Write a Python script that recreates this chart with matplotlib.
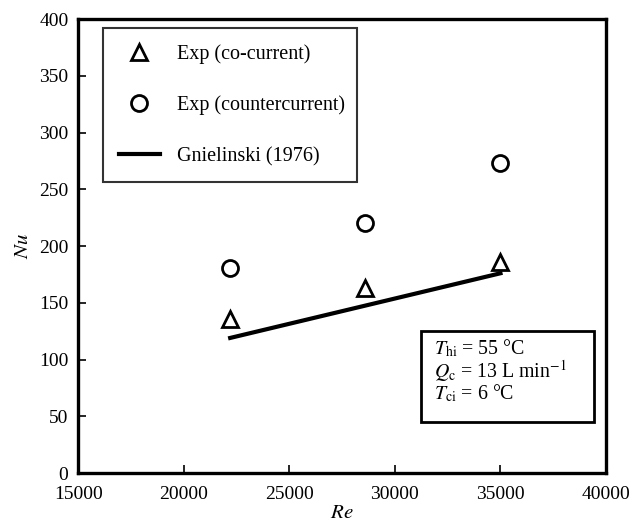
import matplotlib
matplotlib.use("Agg")
import matplotlib.pyplot as plt
from matplotlib.patches import Rectangle

plt.rcParams["font.family"] = ["Liberation Serif", "DejaVu Serif"]
plt.rcParams["mathtext.fontset"] = "stix"
plt.rcParams["font.size"] = 14

# Nusselt number vs Reynolds number
re_exp = [22200, 28600, 35000]
nu_cocurrent = [136, 163, 186]
nu_countercurrent = [181, 220, 273]

re_model = [22200, 35000]
nu_gnielinski = [119, 176]

fig = plt.figure(figsize=(6.3, 5.23), dpi=100)
ax = fig.add_axes([0.124, 0.0956, 0.838, 0.868])

ax.plot(re_exp, nu_cocurrent, linestyle="none", marker="^", markersize=12,
        markerfacecolor="white", markeredgecolor="black", markeredgewidth=2.0,
        label="Exp (co-current)")
ax.plot(re_exp, nu_countercurrent, linestyle="none", marker="o", markersize=11.5,
        markerfacecolor="white", markeredgecolor="black", markeredgewidth=2.0,
        label="Exp (countercurrent)")
ax.plot(re_model, nu_gnielinski, color="black", linewidth=3.0,
        label="Gnielinski (1976)")

ax.set_xlim(15000, 40000)
ax.set_ylim(0, 400)
ax.set_xticks(range(15000, 40001, 5000))
ax.set_yticks(range(0, 401, 50))
ax.tick_params(direction="in", length=6, width=1.2, labelsize=14)
ax.tick_params(axis="x", pad=9)
ax.tick_params(axis="y", pad=7)
for sp in ax.spines.values():
    sp.set_linewidth(2.4)

ax.set_xlabel("$Re$", fontsize=15, labelpad=1)
ax.set_ylabel("$Nu$", fontsize=15, labelpad=4)

leg = ax.legend(loc="upper left", bbox_to_anchor=(0.047, 0.648, 0.481, 0.332),
                mode="expand", frameon=True, fancybox=False, fontsize=14.5,
                labelspacing=1.58, borderpad=0.78, handlelength=2.05,
                handletextpad=0.85, borderaxespad=0)
leg.get_frame().set_edgecolor("black")
leg.get_frame().set_linewidth(1.5)

# operating conditions box
ax.add_patch(Rectangle((0.650, 0.112), 0.327, 0.201, transform=ax.transAxes,
                       facecolor="white", edgecolor="black", linewidth=2.0,
                       zorder=5))
cond = [r"$T_{\rm hi}$ = 55 °C",
        r"$Q_{\rm c}$ = 13 L min$^{-1}$",
        r"$T_{\rm ci}$ = 6 °C"]
for i, s in enumerate(cond):
    ax.text(0.674, 0.274 - i * 0.049, s, transform=ax.transAxes,
            ha="left", va="center", fontsize=14.3, zorder=6)

fig.savefig("out.png", dpi=100)
